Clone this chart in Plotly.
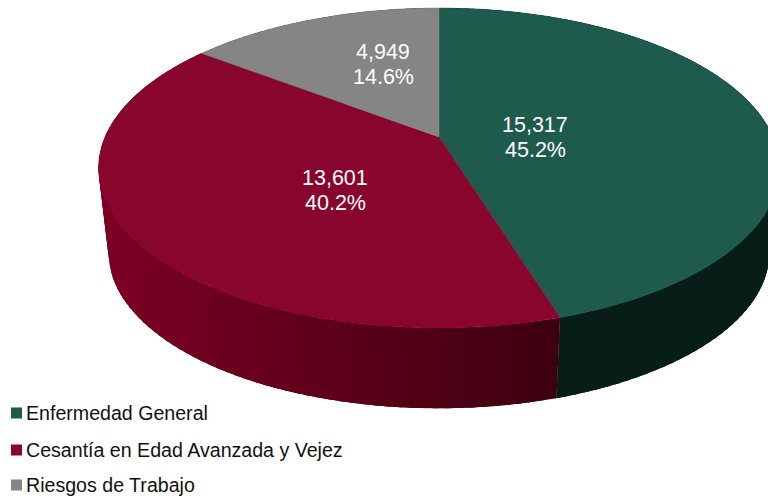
import numpy as np
import plotly.graph_objects as go

categories = ["Enfermedad General", "Cesantía en Edad Avanzada y Vejez", "Riesgos de Trabajo"]
values = [15317, 13601, 4949]
percent_labels = ["45.2%", "40.2%", "14.6%"]

top_colors = ["#1F5B4D", "#88052D", "#858585"]
wall_dark = [(6, 30, 23), (60, 0, 15), (60, 60, 60)]
wall_light = [(6, 30, 23), (124, 0, 36), (90, 90, 90)]

W, H = 768, 498
CX, CY = 439.0, 137.0
A, B, K = 334.0, 154.0, 0.194
S, CY_B = 0.97, 223.0


def rim(t, scale=1.0, cy=CY):
    u, v = np.sin(t), np.cos(t)
    w = 1 + K * v
    return CX + scale * A * u / w, cy - scale * B * v / w


fig = go.Figure()
total = sum(values)
edges = 2 * np.pi * np.cumsum([0] + values) / total

# side wall: overlapping bands, so that no background shows through the joins
for i in range(len(values)):
    n = max(int((edges[i + 1] - edges[i]) / 0.03), 2)
    ts = np.linspace(edges[i], edges[i + 1], n + 1)
    step = ts[1] - ts[0]
    for a in ts[:-1]:
        b = min(a + 2.5 * step, edges[i + 1])
        arc = np.linspace(a, b, 5)
        x1, y1 = rim(arc)
        x2, y2 = rim(arc[::-1], S, CY_B)
        f = np.clip((x1.mean() - 100) / 460, 0, 1)
        c = [round(l + (d - l) * f) for l, d in zip(wall_light[i], wall_dark[i])]
        col = f"rgb({c[0]},{c[1]},{c[2]})"
        fig.add_trace(go.Scatter(
            x=np.r_[x1, x2, x1[0]], y=np.r_[y1, y2, y1[0]], mode="lines",
            fill="toself", fillcolor=col, line=dict(width=0),
            hoverinfo="skip", showlegend=False))

# top face
for i in range(len(values)):
    ts = np.linspace(edges[i], edges[i + 1], 240)
    x, y = rim(ts)
    fig.add_trace(go.Scatter(
        x=np.r_[CX, x, CX], y=np.r_[CY, y, CY], mode="lines", fill="toself",
        fillcolor=top_colors[i], line=dict(color=top_colors[i], width=0.5),
        name=categories[i], showlegend=False, hoverinfo="name"))

label_xy = [(535, 125), (335, 178), (383, 52)]
label_font = dict(family="Liberation Sans", size=21.5, color="white")
annotations = []
for v, pc, p in zip(values, percent_labels, label_xy):
    annotations.append(dict(x=p[0], y=p[1], xref="x", yref="y", showarrow=False,
                            text=f"{v:,}", font=label_font))
    annotations.append(dict(x=p[0], y=p[1] + 25, xref="x", yref="y", showarrow=False,
                            text=pc, font=label_font))
legend_y = [413, 450, 485]
shapes = []
for name, col, y in zip(categories, top_colors, legend_y):
    annotations.append(dict(x=24, y=y, xref="x", yref="y", showarrow=False, xanchor="left",
                            text=name, font=dict(family="Liberation Sans", size=19.6, color="#111111")))
    shapes.append(dict(type="rect", xref="x", yref="y", x0=11, x1=22, y0=y - 5.5, y1=y + 5.5,
                       fillcolor=col, line=dict(width=0)))

fig.update_layout(
    width=W, height=H, margin=dict(l=0, r=0, t=0, b=0), autosize=False,
    paper_bgcolor="white", plot_bgcolor="white", showlegend=False,
    xaxis=dict(range=[0, W], visible=False, fixedrange=True),
    yaxis=dict(range=[H, 0], visible=False, fixedrange=True),
    annotations=annotations, shapes=shapes,
)
fig.write_html("out.html", config={"displayModeBar": False},
               post_script="document.body.style.margin='0';document.body.style.overflow='hidden';")
